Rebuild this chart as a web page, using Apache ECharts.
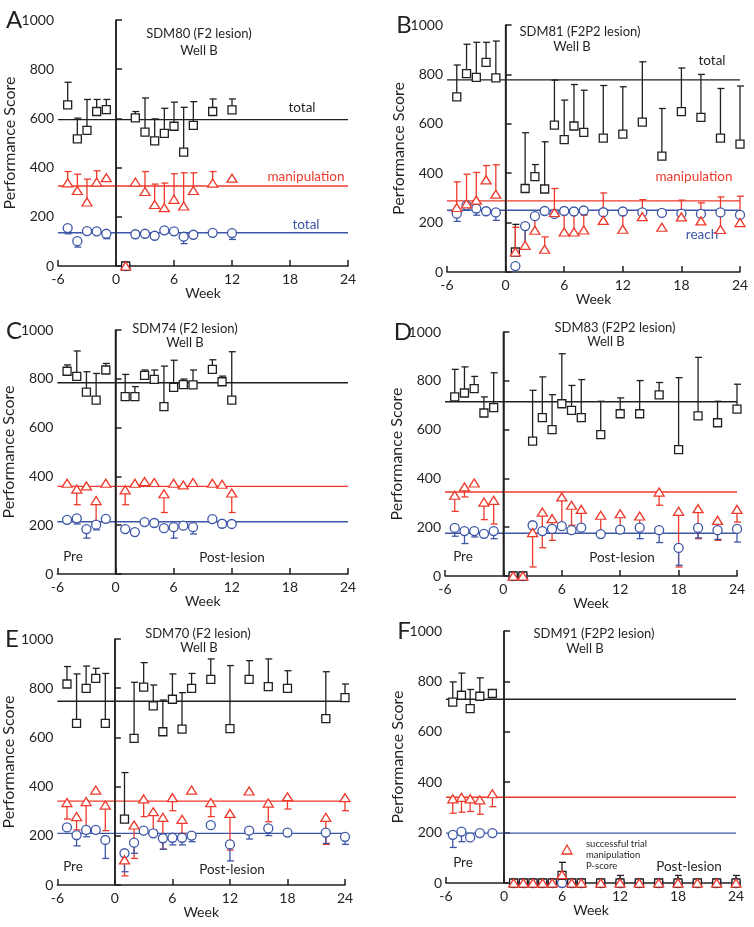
<!DOCTYPE html>
<html>
<head>
<meta charset="utf-8">
<script src="https://cdn.jsdelivr.net/npm/echarts@6/dist/echarts.min.js"></script>
<style>
  html, body { margin: 0; padding: 0; background: #fff; }
  #main { width: 754px; height: 927px; }
</style>
</head>
<body>
<div id="main"></div>
<script>
// weeks relative to lesion, scores
const weeksA = [-5, -4, -3, -2, -1, 1, 2, 3, 4, 5, 6, 7, 8, 10, 12];
const totalA = [655, 517, 551, 628, 636, 0, 602, 544, 509, 539, 568, 463, 572, 628, 635];
const totalSdA = [92, 84, 126, 49, 41, 0, 26, 139, 89, 102, 98, 182, 96, 51, 44];
const manipA = [338, 307, 260, 341, 359, 0, 341, 303, 250, 237, 271, 244, 307, 337, 357];
const manipSdA = [46, 66, 93, 46, 0, 0, 0, 81, 83, 100, 104, 135, 72, 47, 0];
const reachA = [154, 101, 142, 141, 131, 0, 129, 131, 123, 145, 141, 119, 127, 135, 134];
const reachSdA = [23, 24, 0, 0, 20, 0, 0, 0, 0, 0, 0, 28, 0, 0, 26];
const meansA = [595, 325, 135];

const weeksB = [-5, -4, -3, -2, -1, 1, 2, 3, 4, 5, 6, 7, 8, 10, 12, 14, 16, 18, 20, 22, 24];
const totalB = [709, 803, 788, 849, 786, 81, 338, 386, 336, 595, 536, 591, 565, 542, 558, 607, 469, 649, 626, 542, 518];
const totalSdB = [129, 119, 142, 81, 149, 112, 226, 49, 191, 182, 160, 168, 171, 213, 192, 244, 193, 177, 174, 201, 235];
const manipB = [261, 276, 291, 373, 315, 81, 108, 169, 92, 241, 162, 162, 170, 209, 173, 224, 181, 223, 207, 172, 200];
const manipSdB = [104, 120, 112, 58, 119, 100, 77, 47, 50, 97, 85, 74, 60, 111, 84, 69, 0, 68, 73, 132, 107];
const reachB = [236, 270, 257, 246, 241, 24, 186, 226, 247, 235, 247, 245, 249, 242, 245, 241, 239, 236, 235, 241, 231];
const reachSdB = [31, 0, 27, 0, 32, 0, 91, 0, 0, 0, 0, 0, 0, 0, 0, 0, 0, 0, 0, 0, 0];
const meansB = [778, 288, 250];

const weeksC = [-5, -4, -3, -2, -1, 1, 2, 3, 4, 5, 6, 7, 8, 10, 11, 12];
const totalC = [831, 810, 745, 713, 836, 727, 727, 814, 798, 686, 765, 776, 775, 839, 788, 713];
const totalSdC = [26, 104, 84, 109, 27, 91, 41, 22, 38, 166, 111, 23, 61, 39, 23, 198];
const manipC = [372, 348, 361, 301, 372, 345, 372, 379, 375, 329, 372, 365, 375, 372, 368, 332];
const manipSdC = [0, 64, 0, 91, 0, 61, 0, 0, 0, 77, 0, 0, 0, 0, 0, 80];
const reachC = [222, 228, 184, 202, 226, 184, 172, 213, 209, 188, 192, 198, 192, 225, 206, 205];
const reachSdC = [0, 23, 37, 21, 0, 0, 0, 0, 0, 0, 45, 0, 28, 0, 0, 0];
const meansC = [784, 359, 214];

const weeksD = [-5, -4, -3, -2, -1, 1, 2, 3, 4, 5, 6, 7, 8, 10, 12, 14, 16, 18, 20, 22, 24];
const totalD = [734, 750, 768, 668, 690, 0, 0, 553, 649, 600, 706, 679, 649, 579, 665, 665, 742, 518, 656, 628, 684];
const totalSdD = [113, 107, 50, 66, 143, 0, 0, 208, 167, 143, 205, 102, 156, 137, 65, 136, 51, 295, 240, 88, 102];
const manipD = [331, 365, 381, 303, 310, 0, 0, 178, 262, 235, 324, 290, 273, 249, 255, 246, 344, 265, 276, 228, 273];
const manipSdD = [66, 41, 0, 72, 97, 0, 0, 141, 146, 89, 112, 82, 65, 76, 61, 59, 54, 228, 123, 82, 52];
const reachD = [197, 184, 184, 173, 184, 0, 0, 208, 184, 193, 204, 188, 198, 172, 190, 198, 188, 115, 197, 188, 193];
const reachSdD = [34, 51, 24, 0, 31, 0, 0, 0, 0, 0, 0, 0, 0, 0, 0, 45, 51, 71, 41, 38, 54];
const meansD = [714, 344, 175];

const weeksE = [-5, -4, -3, -2, -1, 1, 2, 3, 4, 5, 6, 7, 8, 10, 12, 14, 16, 18, 22, 24];
const totalE = [817, 657, 799, 840, 657, 268, 596, 804, 728, 623, 755, 634, 799, 836, 636, 836, 806, 799, 676, 762];
const totalSdE = [71, 201, 91, 41, 203, 189, 228, 100, 85, 129, 103, 148, 61, 83, 256, 76, 113, 72, 191, 55];
const manipE = [335, 278, 339, 386, 325, 102, 244, 350, 298, 275, 355, 267, 386, 335, 291, 382, 333, 359, 275, 355];
const manipSdE = [67, 54, 109, 0, 104, 65, 136, 72, 74, 129, 53, 57, 0, 57, 149, 0, 76, 50, 110, 53];
const reachE = [234, 203, 224, 224, 183, 129, 172, 221, 210, 190, 192, 192, 201, 243, 165, 221, 230, 213, 213, 196];
const reachSdE = [0, 44, 28, 0, 75, 75, 43, 0, 0, 45, 29, 29, 25, 0, 67, 34, 29, 0, 44, 31];
const meansE = [747, 341, 210];

const weeksF = [-5.3, -4.4, -3.5, -2.5, -1.2, 1, 2, 3, 4, 5, 6, 7, 8, 10, 12, 14, 16, 18, 20, 22, 24];
const totalF = [718, 745, 692, 741, 752, 0, 0, 0, 0, 0, 30, 0, 0, 0, 0, 0, 0, 0, 0, 0, 0];
const totalSdF = [80, 88, 76, 73, 0, 0, 0, 0, 0, 0, 52, 0, 0, 0, 30, 0, 0, 30, 0, 0, 30];
const manipF = [334, 340, 334, 330, 354, 0, 0, 0, 0, 0, 33, 0, 0, 0, 0, 0, 0, 0, 0, 0, 0];
const manipSdF = [57, 59, 50, 57, 51, 0, 0, 0, 0, 0, 0, 0, 0, 0, 0, 0, 0, 0, 0, 0, 0];
const reachF = [191, 204, 181, 198, 198, 0, 0, 0, 0, 0, 0, 0, 0, 0, 0, 0, 0, 0, 0, 0, 0];
const reachSdF = [50, 40, 0, 0, 0, 0, 0, 0, 0, 0, 0, 0, 0, 0, 0, 0, 0, 0, 0, 0, 0];
const meansF = [729, 340, 198];

const BLACK = '#231f20';
const RED = '#ee3a2c';
const BLUE = '#3d56a6';
const FONT = 'Lato, "Open Sans", sans-serif';

// panel: data + manipulation error direction (1 = up, -1 = down)
const panels = [
  { w: weeksA, t: totalA, ts: totalSdA, m: manipA, ms: manipSdA, r: reachA, rs: reachSdA, mean: meansA, mDir: 1,
    grid: { left: 58, top: 20, width: 290, height: 246 }, yGap: 30 },
  { w: weeksB, t: totalB, ts: totalSdB, m: manipB, ms: manipSdB, r: reachB, rs: reachSdB, mean: meansB, mDir: 1,
    grid: { left: 447, top: 25, width: 293, height: 247 }, yGap: 24 },
  { w: weeksC, t: totalC, ts: totalSdC, m: manipC, ms: manipSdC, r: reachC, rs: reachSdC, mean: meansC, mDir: -1,
    grid: { left: 55, top: 330, width: 293, height: 244 }, yGap: 27 },
  { w: weeksD, t: totalD, ts: totalSdD, m: manipD, ms: manipSdD, r: reachD, rs: reachSdD, mean: meansD, mDir: -1,
    grid: { left: 445, top: 332, width: 292, height: 244 }, yGap: 27 },
  { w: weeksE, t: totalE, ts: totalSdE, m: manipE, ms: manipSdE, r: reachE, rs: reachSdE, mean: meansE, mDir: -1,
    grid: { left: 53, top: 639, width: 292, height: 246 }, yGap: 27 },
  { w: weeksF, t: totalF, ts: totalSdF, m: manipF, ms: manipSdF, r: reachF, rs: reachSdF, mean: meansF, mDir: -1,
    grid: { left: 446, top: 631, width: 290, height: 252 }, yGap: 28 }
];

function errSeries(idx, weeks, vals, sds, dir, color) { // one-sided error bars with cap
  const data = [];
  weeks.forEach((w, k) => { if (sds[k]) data.push([w, vals[k], vals[k] + dir * sds[k]]); });
  return {
    type: 'custom', xAxisIndex: idx, yAxisIndex: idx, silent: true, z: 3,
    encode: { x: 0, y: [1, 2] },
    data: data,
    renderItem: function (params, api) {
      const p = api.coord([api.value(0), api.value(1)]);
      const q = api.coord([api.value(0), api.value(2)]);
      const st = { stroke: color, lineWidth: 1.3 };
      return {
        type: 'group', children: [
          { type: 'line', shape: { x1: p[0], y1: p[1], x2: p[0], y2: q[1] }, style: st },
          { type: 'line', shape: { x1: p[0] - 3, y1: q[1], x2: p[0] + 4, y2: q[1] }, style: st }
        ]
      };
    }
  };
}

function hLine(idx, v, color) { // mean line across the whole axis
  return {
    type: 'line', xAxisIndex: idx, yAxisIndex: idx, silent: true, z: 1,
    symbol: 'none', data: [[-6, v], [24, v]],
    lineStyle: { color: color, width: 1.4 }
  };
}

function dots(idx, weeks, vals, symbol, size, color, z) {
  return {
    type: 'scatter', xAxisIndex: idx, yAxisIndex: idx, silent: true, z: z,
    symbol: symbol, symbolSize: size, clip: false,
    data: weeks.map((w, k) => [w, vals[k]]),
    itemStyle: { color: '#fff', borderColor: color, borderWidth: 1.3, opacity: 1 }
  };
}

const grids = [], xAxes = [], yAxes = [], series = [];
panels.forEach((p, i) => {
  grids.push(p.grid);
  xAxes.push({
    gridIndex: i, type: 'value', min: -6, max: 24, interval: 6,
    name: 'Week', nameLocation: 'middle', nameGap: 20,
    nameTextStyle: { color: BLACK, fontSize: 14, fontFamily: FONT },
    axisLine: { show: true, onZero: false, lineStyle: { color: BLACK, width: 1.5 } },
    axisTick: { show: true, inside: true, length: 6, lineStyle: { color: BLACK, width: 1.5 } },
    axisLabel: { color: BLACK, fontSize: 14, fontFamily: FONT, margin: 6 },
    splitLine: { show: false }
  });
  yAxes.push({
    gridIndex: i, type: 'value', min: 0, max: 1000, interval: 200,
    name: 'Performance Score', nameLocation: 'middle', nameGap: p.yGap,
    nameTextStyle: { color: BLACK, fontSize: 16, fontFamily: FONT },
    axisLine: { show: true, lineStyle: { color: BLACK, width: 1.5 } },
    axisTick: { show: true, inside: true, length: 6, lineStyle: { color: BLACK, width: 1.5 } },
    axisLabel: { color: BLACK, fontSize: 14, fontFamily: FONT, margin: 4, formatter: v => String(v) },
    splitLine: { show: false }
  });
  series.push(hLine(i, p.mean[0], BLACK), hLine(i, p.mean[1], RED), hLine(i, p.mean[2], BLUE));
  series.push({ // lesion marker at week 0
    type: 'line', xAxisIndex: i, yAxisIndex: i, silent: true, z: 1, symbol: 'none',
    data: [[0, 0], [0, 1000]], lineStyle: { color: BLACK, width: 1.5 }
  });
  series.push(errSeries(i, p.w, p.t, p.ts, 1, BLACK));
  series.push(errSeries(i, p.w, p.m, p.ms, p.mDir, RED));
  series.push(errSeries(i, p.w, p.r, p.rs, -1, BLUE));
  series.push(dots(i, p.w, p.r, 'circle', 9, BLUE, 4));
  series.push(dots(i, p.w, p.t, 'rect', 8, BLACK, 5));
  series.push(dots(i, p.w, p.m, 'triangle', [10, 8], RED, 6));
});

function txt(x, y, text, color, size, align) {
  return {
    type: 'text', x: x, y: y, silent: true,
    style: { text: text, fill: color || BLACK, fontSize: size || 13, fontFamily: FONT,
             align: align || 'center', verticalAlign: 'middle' }
  };
}

const graphics = [
  txt(14, 20, 'A', BLACK, 24), txt(404, 25, 'B', BLACK, 24), txt(14, 331, 'C', BLACK, 24),
  txt(403, 332, 'D', BLACK, 24), txt(12, 639, 'E', BLACK, 24), txt(404, 631, 'F', BLACK, 24),
  txt(199, 34, 'SDM80 (F2 lesion)'), txt(199, 51, 'Well B'),
  txt(580, 32, 'SDM81 (F2P2 lesion)'), txt(572, 47, 'Well B'),
  txt(185, 329, 'SDM74 (F2 lesion)'), txt(185, 343, 'Well B'),
  txt(615, 328, 'SDM83 (F2P2 lesion)'), txt(606, 342, 'Well B'),
  txt(198, 634, 'SDM70 (F2 lesion)'), txt(199, 648, 'Well B'),
  txt(594, 634, 'SDM91 (F2P2 lesion)'), txt(585, 649, 'Well B'),
  txt(302, 108, 'total', BLACK, 13.5), txt(306, 177, 'manipulation', RED, 13.5), txt(306, 225, 'total', BLUE, 13.5),
  txt(712, 61, 'total', BLACK, 13.5), txt(694, 177, 'manipulation', RED, 13.5), txt(702, 235, 'reach', BLUE, 13.5),
  txt(73, 557, 'Pre', BLACK, 13.5), txt(232, 558, 'Post-lesion', BLACK, 13.5),
  txt(463, 557, 'Pre', BLACK, 13.5), txt(622, 558, 'Post-lesion', BLACK, 13.5),
  txt(73, 867, 'Pre', BLACK, 13.5), txt(232, 870, 'Post-lesion', BLACK, 13.5),
  txt(463, 863, 'Pre', BLACK, 13.5), txt(689, 867, 'Post-lesion', BLACK, 13.5),
  txt(586, 844, 'successful trial', BLACK, 9.5, 'left'),
  txt(586, 855, 'manipulation', BLACK, 9.5, 'left'),
  txt(586, 866, 'P-score', BLACK, 9.5, 'left'),
  { type: 'polygon', silent: true, shape: { points: [[567, 845], [562, 854], [572, 854]] },
    style: { fill: '#fff', stroke: RED, lineWidth: 1.3 } }
];

const chart = echarts.init(document.getElementById('main'), null, { renderer: 'canvas' });
chart.setOption({
  animation: false,
  backgroundColor: '#fff',
  grid: grids,
  xAxis: xAxes,
  yAxis: yAxes,
  series: series,
  graphic: graphics
});
</script>
</body>
</html>
